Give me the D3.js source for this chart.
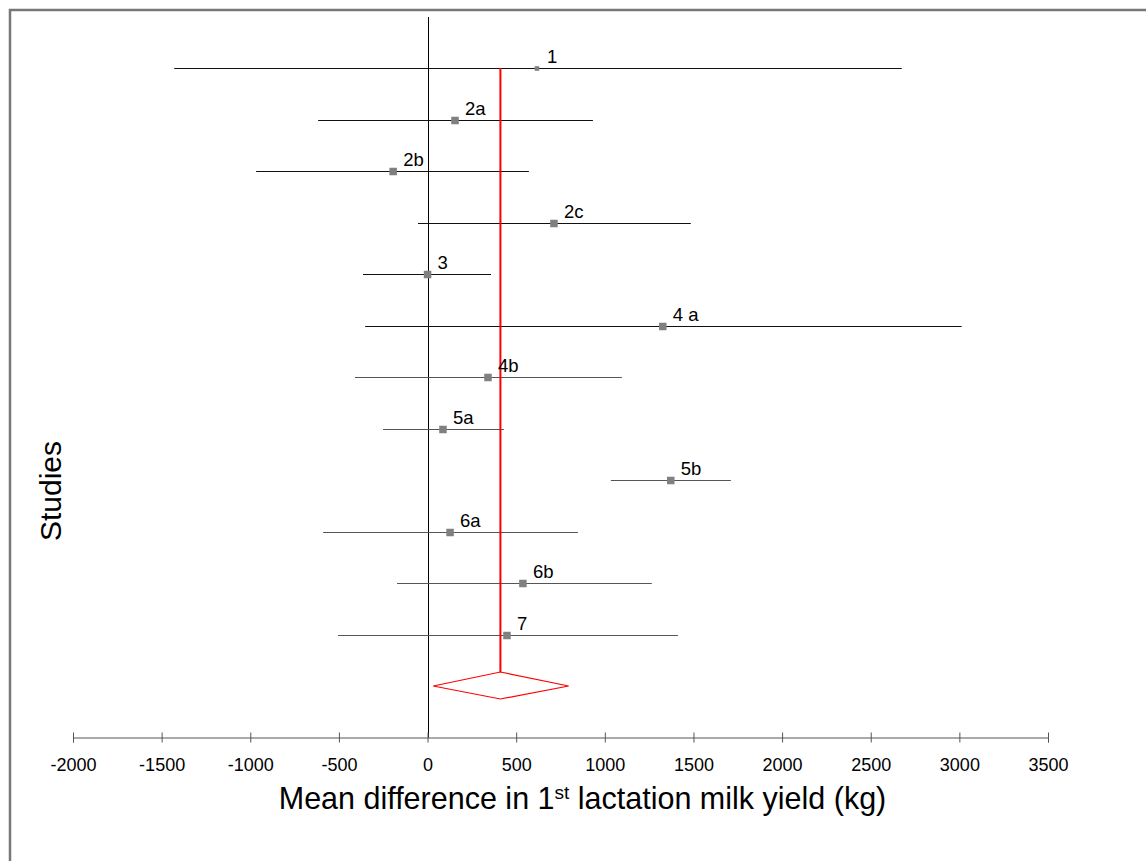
<!DOCTYPE html>
<html>
<head>
<meta charset="utf-8">
<script src="https://cdn.jsdelivr.net/npm/d3@7"></script>
<style>
  body { margin: 0; background: #fff; }
  text { font-family: Arial, "Liberation Sans", sans-serif; fill: #000; }
</style>
</head>
<body>
<svg id="forest" width="1146" height="861"></svg>
<script>
// study labels, mean differences and 95% CI (kg)
const studies = ["1", "2a", "2b", "2c", "3", "4 a", "4b", "5a", "5b", "6a", "6b", "7"];
const means   = [617, 155, -194, 713, 0, 1327, 341, 87, 1372, 127, 538, 448];
const lower   = [-1429, -617, -967, -54, -364, -352, -409, -251, 1034, -589, -172, -505];
const upper   = [2675, 933, 572, 1485, 358, 3013, 1096, 431, 1711, 848, 1265, 1412];
const weights = [3, 8, 8, 8, 8, 8, 8, 8, 8, 8, 8, 8];

// pooled estimate [lower, mean, upper]
const pooled = [32, 411, 796];

const xTicks = [-2000, -1500, -1000, -500, 0, 500, 1000, 1500, 2000, 2500, 3000, 3500];

const svg = d3.select("#forest");
const width = +svg.attr("width");
const height = +svg.attr("height");

// Frame around the plot (only top and left edges show)
svg.append("rect")
  .attr("x", 10).attr("y", 10)
  .attr("width", width + 20).attr("height", height + 20)
  .attr("fill", "none")
  .attr("stroke", "#777")
  .attr("stroke-width", 2.5);

const axisY = 737.5;

const xScale = d3.scaleLinear()
  .domain([-2000, 3500])
  .range([73, 1048]);

const yScale = d3.scalePoint()
  .domain(studies.concat(["pooled"]))
  .range([68, 686]);

const sizeScale = d3.scaleSqrt().domain([0, 8]).range([0, 7.5]);

// snap to pixel centre so 1px lines stay sharp
const snap = v => Math.round(v) + 0.5;

// zero line
svg.append("line")
  .attr("x1", snap(xScale(0))).attr("x2", snap(xScale(0)))
  .attr("y1", 17).attr("y2", axisY)
  .attr("stroke", "#000")
  .attr("stroke-width", 1);

// x axis
const xAxis = d3.axisBottom(xScale)
  .tickValues(xTicks)
  .tickSizeOuter(0)
  .tickSize(5)
  .tickPadding(16)
  .tickFormat(d => String(d));

const gx = svg.append("g")
  .attr("transform", `translate(0,${axisY})`)
  .call(xAxis);
gx.select(".domain").attr("stroke", "#555");
gx.selectAll(".tick line").attr("y1", -5).attr("y2", 5).attr("stroke", "#555");
gx.selectAll(".tick text")
  .style("font-family", "Arial, 'Liberation Sans', sans-serif")
  .style("font-size", "18px")
  .attr("fill", "#000");

// CI lines
const rows = studies.map((s, i) => ({ s, m: means[i], lo: lower[i], hi: upper[i], w: weights[i], i }));

svg.selectAll(".ci")
  .data(rows)
  .enter().append("line")
  .attr("class", "ci")
  .attr("x1", d => xScale(d.lo))
  .attr("x2", d => xScale(d.hi))
  .attr("y1", d => snap(yScale(d.s)))
  .attr("y2", d => snap(yScale(d.s)))
  .attr("stroke", d => d.i < 6 ? "#111" : "#555")
  .attr("stroke-width", 1);

// pooled red line
svg.append("line")
  .attr("x1", xScale(pooled[1])).attr("x2", xScale(pooled[1]))
  .attr("y1", yScale(studies[0]))
  .attr("y2", yScale("pooled") - 14)
  .attr("stroke", "#ff0000")
  .attr("stroke-width", 2);

// point estimates
svg.selectAll(".pt")
  .data(rows)
  .enter().append("rect")
  .attr("class", "pt")
  .attr("x", d => xScale(d.m) - sizeScale(d.w) / 2)
  .attr("y", d => snap(yScale(d.s)) - sizeScale(d.w) / 2)
  .attr("width", d => sizeScale(d.w))
  .attr("height", d => sizeScale(d.w))
  .attr("fill", "#808080");

// study labels
svg.selectAll(".lab")
  .data(rows)
  .enter().append("text")
  .attr("class", "lab")
  .attr("x", d => xScale(d.m) + 10)
  .attr("y", d => yScale(d.s) - 5)
  .style("font-size", "18.5px")
  .text(d => d.s);

// pooled diamond
const py = yScale("pooled");
svg.append("path")
  .attr("d", `M${xScale(pooled[0])},${py} L${xScale(pooled[1])},${py - 14} L${xScale(pooled[2])},${py} L${xScale(pooled[1])},${py + 13} Z`)
  .attr("fill", "none")
  .attr("stroke", "#ff0000")
  .attr("stroke-width", 1.2);

// axis title with superscript
const title = svg.append("text")
  .attr("x", (xScale(-2000) + xScale(3500)) / 2 + 22)
  .attr("y", 809)
  .attr("text-anchor", "middle")
  .style("font-size", "30.5px");
title.append("tspan").text("Mean difference in 1");
title.append("tspan").attr("baseline-shift", "super").style("font-size", "19px").text("st");
title.append("tspan").text(" lactation milk yield (kg)");

// y title
svg.append("text")
  .attr("transform", "translate(61,491) rotate(-90)")
  .attr("text-anchor", "middle")
  .style("font-size", "30px")
  .text("Studies");
</script>
</body>
</html>
